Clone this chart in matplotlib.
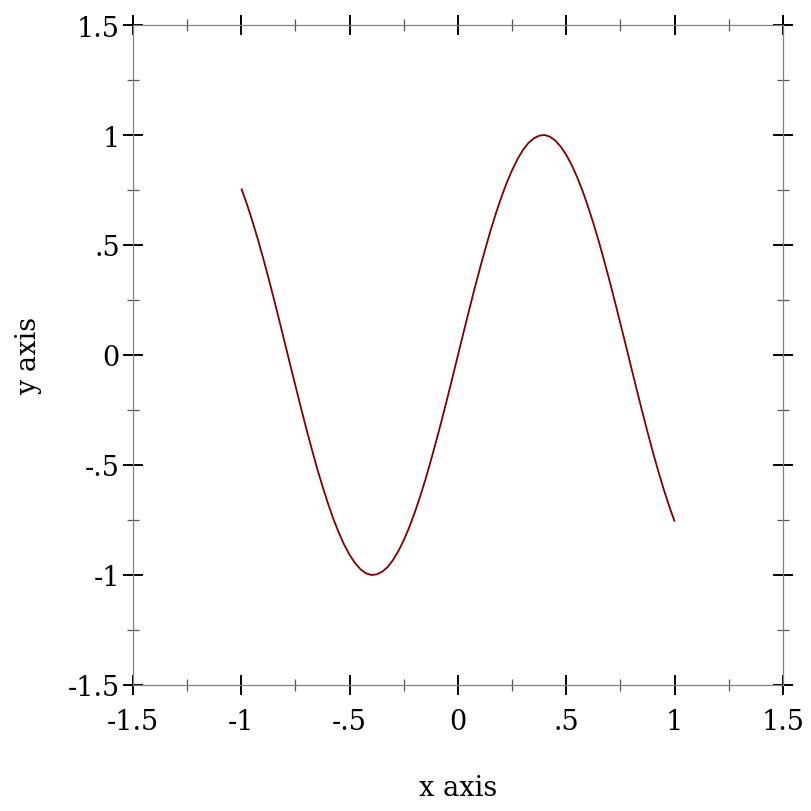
"""Racket-style function plot of a single wave."""
import matplotlib

matplotlib.use("Agg")
import matplotlib.pyplot as plt
import numpy as np
from matplotlib.ticker import FixedLocator, MultipleLocator

# curve samples, x from -1 to 1 in steps of 0.025
X_START, X_END = -1.0, 1.0
Y_LEFT_HALF = [
    0.757, 0.688, 0.612, 0.530, 0.443, 0.351, 0.256, 0.158, 0.058, -0.042,
    -0.141, -0.239, -0.335, -0.427, -0.516, -0.598, -0.675, -0.746, -0.808,
    -0.863, -0.909, -0.946, -0.974, -0.992, -1.000, -0.997, -0.985, -0.964,
    -0.932, -0.891, -0.841, -0.783, -0.717, -0.644, -0.565, -0.479, -0.389,
    -0.296, -0.199, -0.100, 0.0,
]
y_values = Y_LEFT_HALF + [-v for v in reversed(Y_LEFT_HALF[:-1])]
x_values = np.linspace(X_START, X_END, len(y_values))

tick_values = [-1.5, -1.0, -0.5, 0.0, 0.5, 1.0, 1.5]
tick_labels = ["-1.5", "-1", "-.5", "0", ".5", "1", "1.5"]

FONT = "DejaVu Serif"
LINE_COLOR = "#800000"

plt.rcParams["font.family"] = FONT

fig = plt.figure(figsize=(8.12, 8.12), dpi=100)
ax = fig.add_axes([133 / 812, 1 - 686 / 812, 650 / 812, 660 / 812])

ax.plot(x_values, y_values, color=LINE_COLOR, lw=1.3, solid_capstyle="butt")

ax.set_xlim(-1.5, 1.5)
ax.set_ylim(-1.5, 1.5)

for axis in (ax.xaxis, ax.yaxis):
    axis.set_major_locator(FixedLocator(tick_values))
    axis.set_minor_locator(MultipleLocator(0.25))
ax.set_xticklabels(tick_labels)
ax.set_yticklabels(tick_labels)

for spine in ax.spines.values():
    spine.set_color("#808080")
    spine.set_linewidth(0.9)

ax.tick_params(which="major", direction="inout", length=15, width=1.4,
               color="black", labelsize=19.5, top=True, right=True)
ax.tick_params(which="minor", direction="inout", length=8, width=0.9,
               color="#555555", top=True, right=True)
ax.tick_params(axis="x", which="major", pad=9)
ax.tick_params(axis="y", which="major", pad=2)

ax.set_xlabel("x axis", fontsize=19.5, labelpad=28)
ax.set_ylabel("y axis", fontsize=19.5, labelpad=18)

fig.savefig("out.png", dpi=100)
